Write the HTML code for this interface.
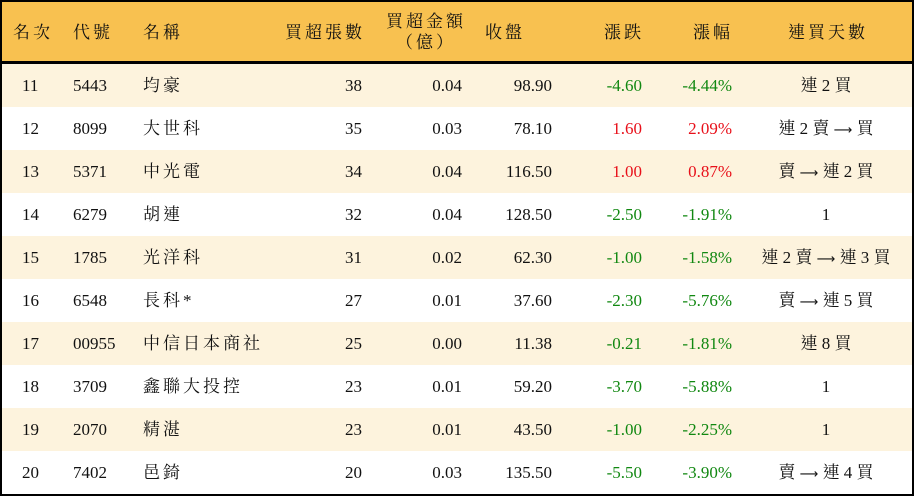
<!DOCTYPE html>
<html><head><meta charset="utf-8"><style>
*{margin:0;padding:0;box-sizing:border-box}
body{width:914px;height:496px;background:#fff;position:relative;overflow:hidden;font-family:"Liberation Serif","Noto Serif CJK TC","Noto Serif CJK SC",serif;font-size:17px;color:#111}
#f{position:absolute;left:0;top:0;width:914px;height:496px;border:2px solid #000}
#h{position:absolute;left:0;top:0;width:914px;height:64px;background:#f8c150;border-bottom:3px solid #000}
.r{position:absolute;left:0;width:914px;height:43px}
.c{position:absolute;line-height:20px;white-space:nowrap}
.s{letter-spacing:3px}
.g{color:#118811}.red{color:#e8101a}
</style></head><body>
<div id="h"></div>
<div id="rows"></div>
<div id="f"></div>
<script>
var H=[["名次",13,33,"l"],["代號",73,33,"l"],["名稱",143,33,"l"],["買超張數",365,33,"r"],["買超金額",426,22,"c"],["（億）",426,43,"c"],["收盤",505,33,"c"],["漲跌",624,33,"c"],["漲幅",713,33,"c"],["連買天數",828,33,"c"]];
var D=[
["11","5443","均豪","38","0.04","98.90","-4.60","-4.44%","連 2 買","g"],
["12","8099","大世科","35","0.03","78.10","1.60","2.09%","連 2 賣 → 買","red"],
["13","5371","中光電","34","0.04","116.50","1.00","0.87%","賣 → 連 2 買","red"],
["14","6279","胡連","32","0.04","128.50","-2.50","-1.91%","1","g"],
["15","1785","光洋科","31","0.02","62.30","-1.00","-1.58%","連 2 賣 → 連 3 買","g"],
["16","6548","長科*","27","0.01","37.60","-2.30","-5.76%","賣 → 連 5 買","g"],
["17","00955","中信日本商社","25","0.00","11.38","-0.21","-1.81%","連 8 買","g"],
["18","3709","鑫聯大投控","23","0.01","59.20","-3.70","-5.88%","1","g"],
["19","2070","精湛","23","0.01","43.50","-1.00","-2.25%","1","g"],
["20","7402","邑錡","20","0.03","135.50","-5.50","-3.90%","賣 → 連 4 買","g"]];
var out="";
function cell(t,x,y,a,cls){var s="top:"+(y-10)+"px;";if(a=="l")s+="left:"+x+"px;";else if(a=="r")s+="right:"+(914-x)+"px;";else s+="left:"+(x-150)+"px;width:300px;text-align:center;";return '<div class="c '+(cls||"")+'" style="'+s+'">'+t+'</div>';}
H.forEach(function(h){out+=cell(h[0],h[1],h[2],h[3],"s");});
D.forEach(function(d,i){var top=64+i*43;out+='<div class="r" style="top:'+top+'px;background:'+(i%2?'#fff':'#fdf3dd')+'"></div>';var y=top+22;
var last=d[8].replace(/→/g,'<span style="font-family:\'DejaVu Sans\';font-size:13px">⟶</span>');
out+=cell(d[0],22,y,"l")+cell(d[1],73,y,"l")+cell(d[2],143,y,"l","s")+cell(d[3],362,y,"r")+cell(d[4],462,y,"r")+cell(d[5],552,y,"r")+cell(d[6],642,y,"r",d[9])+cell(d[7],732,y,"r",d[9])+cell(last,826,y,"c");});
document.getElementById("rows").innerHTML=out;
</script>
</body></html>
